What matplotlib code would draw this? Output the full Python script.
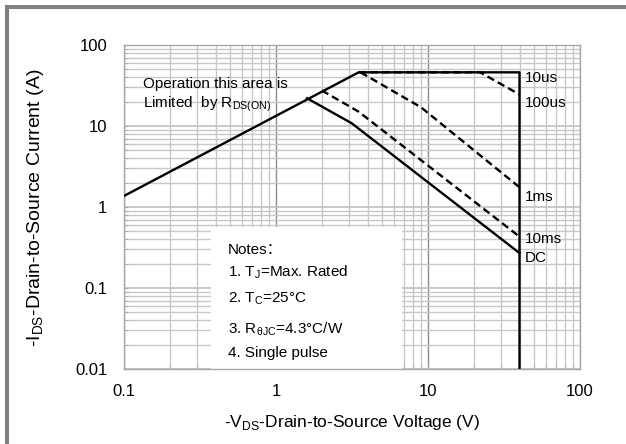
import matplotlib
matplotlib.use("Agg")
import matplotlib.pyplot as plt
from matplotlib.patches import Rectangle
from matplotlib.ticker import FixedLocator, NullFormatter, LogLocator

plt.rcParams['font.family'] = ['Liberation Sans', 'DejaVu Sans', 'Noto Sans CJK SC']
plt.rcParams['mathtext.fontset'] = 'custom'
plt.rcParams['mathtext.rm'] = 'Liberation Sans'

# SOA boundary (10us): R_DS(on) limit, current limit, voltage limit
v_10us = [0.1, 3.5, 40, 40]
i_10us = [1.37, 46, 46, 0.01]
# pulse curves
v_100us = [3.5, 22, 40]
i_100us = [46, 46, 24.5]
v_1ms = [3.6, 9, 40]
i_1ms = [46, 17, 1.75]
v_10ms = [2.0, 3.5, 40]
i_10ms = [27.5, 15, 0.43]
v_dc = [1.6, 3.15, 40]
i_dc = [22, 10.8, 0.27]

curve_labels = ['10us', '100us', '1ms', '10ms', 'DC']
label_v = [43.5, 43.5, 43.5, 43.5, 43.5]
label_i = [39, 19.2, 1.34, 0.40, 0.233]

x_ticks = [0.1, 1, 10, 100]
x_tick_labels = ['0.1', '1', '10', '100']
y_ticks = [0.01, 0.1, 1, 10, 100]
y_tick_labels = ['0.01', '0.1', '1', '10', '100']

notes = ['Notes\uff1a',
         r'1. T$_{\mathregular{J}}$=Max. Rated',
         r'2. T$_{\mathregular{C}}$=25°C',
         r'3. R$_{\mathregular{θJC}}$=4.3°C/W',
         '4. Single pulse']
notes_y = [0.355, 0.285, 0.205, 0.110, 0.036]

fig = plt.figure(figsize=(6.26, 4.44), dpi=100)
ax = fig.add_axes([124 / 626, 1 - 369 / 444, 456 / 626, 324 / 444])
ax.set_xscale('log')
ax.set_yscale('log')
ax.set_xlim(0.1, 100)
ax.set_ylim(0.01, 100)

ax.set_axisbelow(True)
ax.xaxis.set_major_locator(FixedLocator(x_ticks))
ax.set_xticklabels(x_tick_labels)
ax.yaxis.set_major_locator(FixedLocator(y_ticks))
ax.set_yticklabels(y_tick_labels)
ax.xaxis.set_minor_locator(LogLocator(base=10, subs=range(2, 10)))
ax.yaxis.set_minor_locator(LogLocator(base=10, subs=range(2, 10)))
ax.xaxis.set_minor_formatter(NullFormatter())
ax.yaxis.set_minor_formatter(NullFormatter())

ax.grid(True, which='minor', color='#c8c8c8', lw=1.0)
ax.grid(True, which='major', axis='y', color='#c0c0c0', lw=1.2)
ax.grid(True, which='major', axis='x', color='#8c8c8c', lw=1.0)
for s in ax.spines.values():
    s.set_color('#a8a8a8')
    s.set_linewidth(1.0)
ax.tick_params(which='both', direction='in', color='#a8a8a8', length=3)
ax.tick_params(axis='x', which='major', labelsize=12, pad=11)
ax.tick_params(axis='y', which='major', labelsize=12, pad=12)

# notes box covers the grid
ax.add_patch(Rectangle((0.191, 0.0), 0.419, 0.438, transform=ax.transAxes,
                       facecolor='white', edgecolor='none', zorder=1))

dash = (0, (3.2, 1.8))
ax.plot(v_10us, i_10us, color='black', lw=1.7, zorder=4)
ax.plot(v_100us, i_100us, color='black', lw=1.7, ls=dash, zorder=3)
ax.plot(v_1ms, i_1ms, color='black', lw=1.7, ls=dash, zorder=3)
ax.plot(v_10ms, i_10ms, color='black', lw=1.7, ls=dash, zorder=3)
ax.plot(v_dc, i_dc, color='black', lw=1.7, zorder=4)

for txt, v, i in zip(curve_labels, label_v, label_i):
    ax.text(v, i, txt, fontsize=11, ha='left', va='center', zorder=5)

ax.text(0.042, 0.866, 'Operation this area is', transform=ax.transAxes,
        fontsize=11, va='baseline', zorder=5)
ax.text(0.042, 0.808, r'Limited  by R$_{\mathregular{DS(ON)}}$', transform=ax.transAxes,
        fontsize=11, va='baseline', zorder=5)

for txt, y in zip(notes, notes_y):
    ax.text(0.228, y, txt, transform=ax.transAxes, fontsize=11,
            va='baseline', zorder=5,
            family=['Liberation Sans', 'Noto Sans CJK SC', 'DejaVu Sans'])

ax.set_xlabel(r'-V$_{\mathregular{DS}}$-Drain-to-Source Voltage (V)', fontsize=12.5)
ax.xaxis.label.set_va('center')
ax.xaxis.set_label_coords(0.5, -0.164)
ax.set_ylabel(r'-I$_{\mathregular{DS}}$-Drain-to-Source Current (A)', fontsize=14)
ax.yaxis.label.set_va('center')
ax.yaxis.set_label_coords(-0.195, 0.497)

# grey frame around the picture (only left and top edges are visible)
fig.patches.append(Rectangle((0.07, -0.5), 8.0, 4.37 + 0.5,
                             transform=fig.dpi_scale_trans, fill=False,
                             edgecolor='#808080', lw=2.9))

fig.savefig('out.png', dpi=100)
